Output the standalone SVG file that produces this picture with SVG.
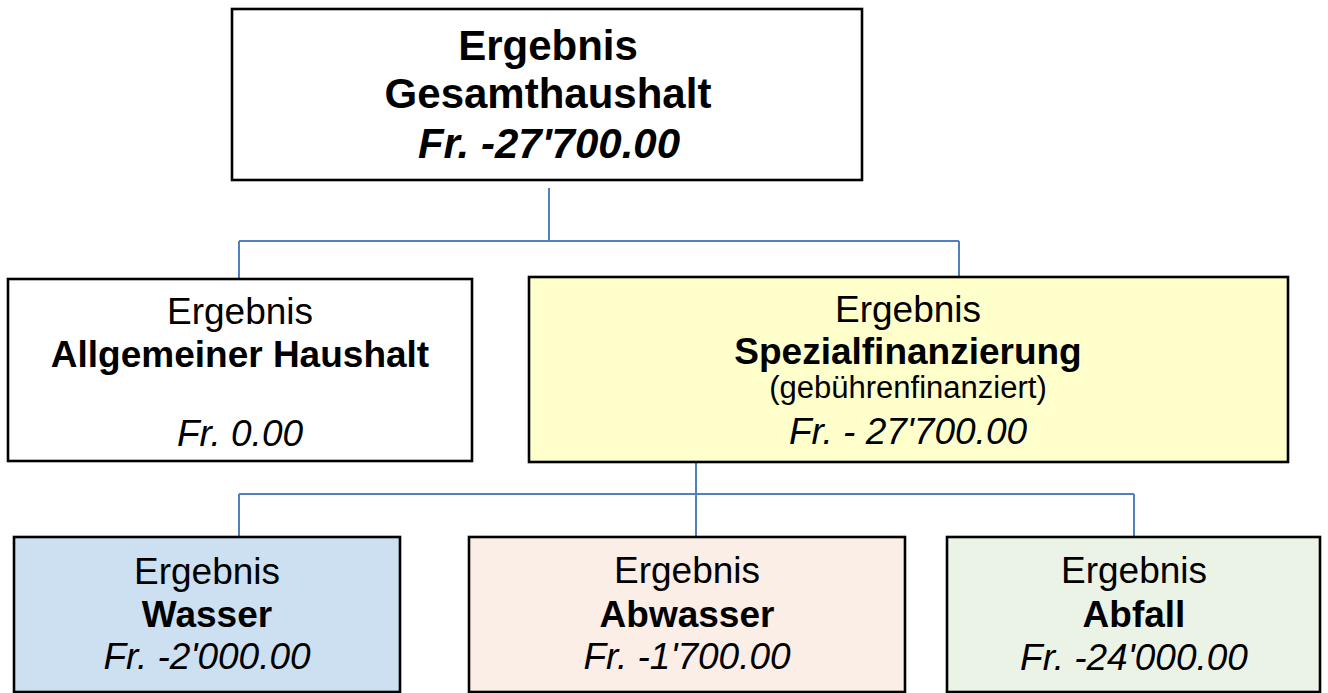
<svg xmlns="http://www.w3.org/2000/svg" width="1328" height="693" viewBox="0 0 1328 693">
<style>
.box{stroke:#000;stroke-width:2.6}
.con{stroke:#4F81BD;stroke-width:2;fill:none}
text{font-family:"Liberation Sans",Arial,sans-serif;fill:#000;text-anchor:middle}
.t{font-size:42px;font-weight:bold}
.ti{font-size:42px;font-weight:bold;font-style:italic}
.r{font-size:37px}
.b{font-size:37px;font-weight:bold}
.i{font-size:37px;font-style:italic}
.s{font-size:31px}
</style>
<rect width="1328" height="693" fill="#fff"/>
<g id="connectors">
<path class="con" d="M549 188V241M239 241H959M239 241V278M959 241V277"/>
<path class="con" d="M696 462V537M239 494H1134M239 494V537M1134 494V537"/>
</g>
<g id="gesamt">
<rect class="box" x="232" y="9" width="630" height="171" fill="#fff"/>
<text class="t" x="548" y="60">Ergebnis</text>
<text class="t" x="548" y="108">Gesamthaushalt</text>
<text class="ti" x="549" y="158">Fr. -27'700.00</text>
</g>
<g id="allgemein">
<rect class="box" x="8" y="279" width="464" height="182" fill="#fff"/>
<text class="r" x="240" y="324">Ergebnis</text>
<text class="b" x="240" y="367">Allgemeiner Haushalt</text>
<text class="i" x="240" y="446">Fr. 0.00</text>
</g>
<g id="spezial">
<rect class="box" x="529" y="277" width="759" height="185" fill="#FFFFCC"/>
<text class="r" x="908" y="322">Ergebnis</text>
<text class="b" x="908" y="364">Spezialfinanzierung</text>
<text class="s" x="908" y="398">(gebührenfinanziert)</text>
<text class="i" x="908" y="444">Fr. - 27'700.00</text>
</g>
<g id="wasser">
<rect class="box" x="14" y="537" width="386" height="155" fill="#CCE0F1"/>
<text class="r" x="207" y="584">Ergebnis</text>
<text class="b" x="207" y="627">Wasser</text>
<text class="i" x="207" y="669">Fr. -2'000.00</text>
</g>
<g id="abwasser">
<rect class="box" x="469" y="537" width="436" height="155" fill="#FBEEE6"/>
<text class="r" x="687" y="583">Ergebnis</text>
<text class="b" x="687" y="627">Abwasser</text>
<text class="i" x="687" y="669">Fr. -1'700.00</text>
</g>
<g id="abfall">
<rect class="box" x="947" y="537" width="373" height="155" fill="#EBF2E6"/>
<text class="r" x="1134" y="583">Ergebnis</text>
<text class="b" x="1134" y="627">Abfall</text>
<text class="i" x="1134" y="670">Fr. -24'000.00</text>
</g>
</svg>
